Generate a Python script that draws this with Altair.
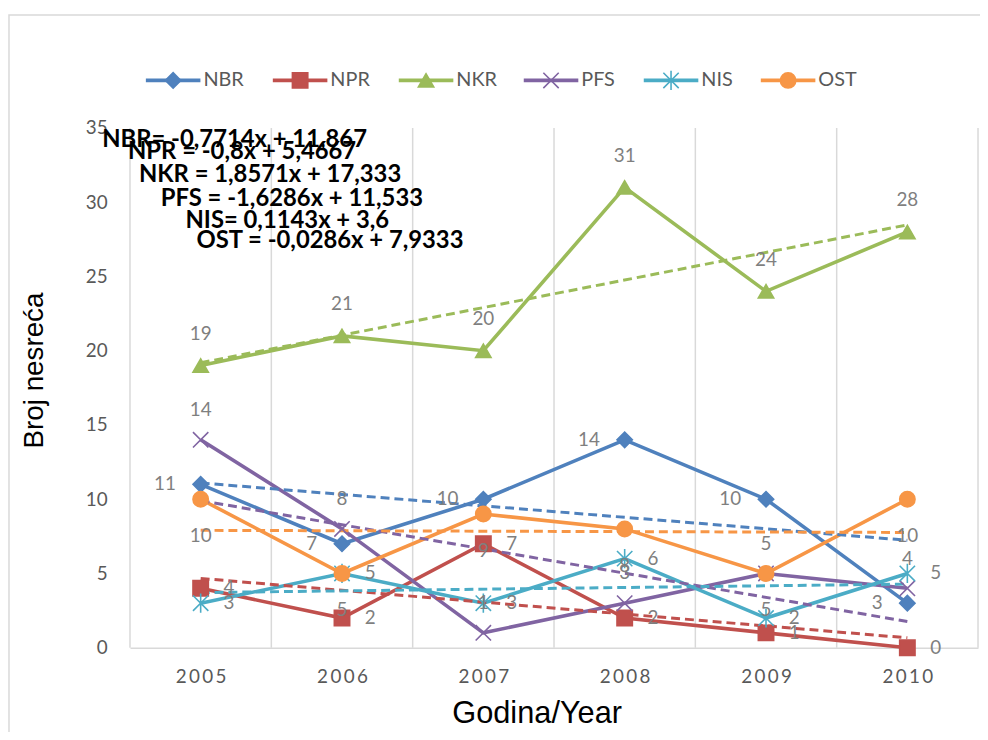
import altair as alt
import pandas as pd

# ---------------- data ----------------
years = [2005, 2006, 2007, 2008, 2009, 2010]
series_names = ["NBR", "NPR", "NKR", "PFS", "NIS", "OST"]
nbr = [11, 7, 10, 14, 10, 3]
npr = [4, 2, 7, 2, 1, 0]
nkr = [19, 21, 20, 31, 24, 28]
pfs = [14, 8, 1, 3, 5, 4]
nis = [3, 5, 3, 6, 2, 5]
ost = [10, 5, 9, 8, 5, 10]
y_ticks = [0, 5, 10, 15, 20, 25, 30, 35]
equations = [
    "NBR= -0,7714x + 11,867",
    "NPR = -0,8x + 5,4667",
    "NKR = 1,8571x + 17,333",
    "PFS = -1,6286x + 11,533",
    "NIS= 0,1143x + 3,6",
    "OST = -0,0286x + 7,9333",
]

# ---------------- styles ----------------
colors = ["#4F81BD", "#C0504D", "#9BBB59", "#8064A2", "#4BACC6", "#F79646"]
shapes = [
    "diamond",
    "square",
    "triangle-up",
    "M-1,-1L1,1M-1,1L1,-1",
    "M-1,-1L1,1M-1,1L1,-1M0,-1.25L0,1.25",
    "circle",
]
# data-label placement per series: (dx, dy, align)
label_pos = {
    "NBR": (-25, 0, "right"),
    "NPR": (23, 0, "left"),
    "NKR": (0, -32, "center"),
    "PFS": (0, -30, "center"),
    "NIS": (23, 0, "left"),
    "OST": (0, 37, "center"),
}
grid_x = [2004.5, 2005.5, 2006.5, 2007.5, 2008.5, 2009.5, 2010.5]
legend_x = [16, 144, 271, 397, 518, 636]
eq_pos = [(-28, 12), (-2, 24), (9, 47), (31, 72), (56, 94), (67, 114)]

W, H = 855, 524
LABEL_GRAY = "#7f7f7f"
AXIS_GRAY = "#595959"
GRID = "#d9d9d9"
MSIZE = 240

values = [nbr, npr, nkr, pfs, nis, ost]
df = pd.DataFrame(
    [
        {"series": s, "year": y, "value": v}
        for s, vals in zip(series_names, values)
        for y, v in zip(years, vals)
    ]
)

color_scale = alt.Scale(domain=series_names, range=colors)
shape_scale = alt.Scale(domain=series_names, range=shapes)

x_enc = alt.X(
    "year:Q",
    scale=alt.Scale(domain=[grid_x[0], grid_x[-1]], nice=False, zero=False),
    axis=alt.Axis(
        values=years,
        format="d",
        labelExpr="join(split(datum.label, ''), '\u2009')",
        grid=False,
        ticks=False,
        domainColor=GRID,
        domainWidth=1.5,
        labelFont="Lato",
        labelFontSize=19,
        labelColor=AXIS_GRAY,
        labelPadding=20,
        title="Godina/Year",
        titleFont="Liberation Sans",
        titleFontSize=31,
        titleFontWeight="normal",
        titleColor="#000000",
        titleX=410,
        titleY=66,
        titleBaseline="middle",
        titleAlign="center",
    ),
)
y_enc = alt.Y(
    "value:Q",
    scale=alt.Scale(domain=[0, 35], nice=False, zero=True),
    axis=alt.Axis(
        values=y_ticks,
        grid=False,
        ticks=False,
        domain=False,
        labelFont="Lato",
        labelFontSize=19,
        labelColor=AXIS_GRAY,
        labelPadding=23,
        title="Broj nesreća",
        titleFont="Liberation Sans",
        titleFontSize=28,
        titleFontWeight="normal",
        titleColor="#000000",
        titleAngle=-90,
        titleX=-96,
        titleY=244,
        titleBaseline="middle",
        titleAlign="center",
    ),
)
color_enc = alt.Color("series:N", scale=color_scale, legend=None)
stroke_enc = alt.Stroke("series:N", scale=color_scale, legend=None)
shape_enc = alt.Shape("series:N", scale=shape_scale, legend=None)

base = alt.Chart(df)

# chart border
border = alt.Chart(pd.DataFrame({"a": [0]})).mark_rect(
    fill=None, stroke=GRID, strokeWidth=1.5
).encode(
    x=alt.value(-122), x2=alt.value(W + 20), y=alt.value(-114), y2=alt.value(H + 200)
)

# vertical gridlines between categories
grid = alt.Chart(pd.DataFrame({"year": grid_x})).mark_rule(
    color=GRID, strokeWidth=1.5
).encode(x=x_enc, y=alt.value(0), y2=alt.value(H))

lines = base.mark_line(strokeWidth=3.6).encode(
    x=x_enc, y=y_enc, color=color_enc, detail="series:N"
)
points = base.mark_point(filled=True, size=MSIZE, strokeWidth=1.6, opacity=1).encode(
    x=x_enc, y=y_enc, color=color_enc, stroke=stroke_enc, shape=shape_enc
)
trend = (
    base.transform_regression("year", "value", groupby=["series"])
    .mark_line(strokeWidth=3, strokeDash=[9, 5])
    .encode(x=x_enc, y=y_enc, color=color_enc, detail="series:N")
)

label_layers = []
for s in series_names:
    dx, dy, al = label_pos[s]
    label_layers.append(
        base.transform_filter(alt.datum.series == s)
        .mark_text(
            dx=dx, dy=dy, align=al, baseline="middle",
            font="Lato", fontSize=19, color=LABEL_GRAY,
        )
        .encode(x=x_enc, y=y_enc, text=alt.Text("value:Q"))
    )

# equations of trendlines
eq_df = pd.DataFrame(
    {
        "eq": equations,
        "ex": [p[0] for p in eq_pos],
        "ey": [p[1] for p in eq_pos],
    }
)
eq_text = alt.Chart(eq_df).mark_text(
    align="left", baseline="middle", font="Lato", fontSize=24,
    fontWeight="bold", color="#000000",
).encode(
    x=alt.X("ex:Q", scale=None), y=alt.Y("ey:Q", scale=None), text="eq:N"
)

# custom legend (line + marker + text)
leg_df = pd.DataFrame({"series": series_names, "lx": legend_x})
leg_df["lx2"] = leg_df["lx"] + 55
leg_df["lm"] = leg_df["lx"] + 27.5
leg_df["lt"] = leg_df["lx"] + 58
leg_y = -48
leg_line = alt.Chart(leg_df).mark_rule(strokeWidth=3.6).encode(
    x=alt.X("lx:Q", scale=None), x2="lx2:Q", y=alt.value(leg_y), color=color_enc
)
leg_pt = alt.Chart(leg_df).mark_point(
    filled=True, size=MSIZE, strokeWidth=1.6, opacity=1
).encode(
    x=alt.X("lm:Q", scale=None), y=alt.value(leg_y), color=color_enc,
    stroke=stroke_enc, shape=shape_enc,
)
leg_txt = alt.Chart(leg_df).mark_text(
    align="left", baseline="middle", font="Lato", fontSize=20, color=AXIS_GRAY
).encode(x=alt.X("lt:Q", scale=None), y=alt.value(leg_y), text="series:N")

chart = (
    alt.layer(
        border, grid, lines, trend, points, *label_layers, eq_text,
        leg_line, leg_pt, leg_txt,
    )
    .properties(
        width=W,
        height=H,
        autosize=alt.AutoSizeParams(type="none"),
        padding={"left": 123, "top": 118, "right": 2, "bottom": 82},
        background="white",
    )
    .configure_view(stroke=None)
)

chart.save("out.html", embed_options={"renderer": "svg", "actions": False})
